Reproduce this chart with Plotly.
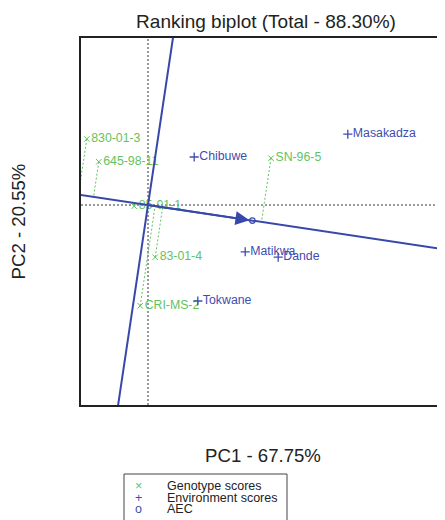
import plotly.graph_objects as go

# ---- data ----
genotypes = ["830-01-3", "645-98-11", "85-01-1", "83-01-4", "CRI-MS-2", "SN-96-5"]
geno_pc1 = [-1.02, -0.82, -0.23, 0.12, -0.13, 2.05]
geno_pc2 = [1.10, 0.72, -0.02, -0.87, -1.68, 0.78]

environments = ["Chibuwe", "Masakadza", "Matikwa", "Dande", "Tokwane"]
env_pc1 = [0.77, 3.33, 1.62, 2.17, 0.83]
env_pc2 = [0.80, 1.18, -0.78, -0.87, -1.60]

aec_pc1 = 1.74
aec_pc2 = -0.26

title_text = "Ranking biplot (Total - 88.30%)"
x_title = "PC1 - 67.75%"
y_title = "PC2 - 20.55%"
legend_labels = ["Genotype scores", "Environment scores", "AEC"]

# ---- styles ----
GREEN = "#5fc45f"
BLUE = "#3f4db0"
LINEBLUE = "#3848aa"
DARK = "#222222"
FONT = "Liberation Sans, Arial, Helvetica, sans-serif"

OFF = 8  # page body margin
W, H = 445 - OFF, 520 - OFF
ML, MT, MB, MR = 81 - OFF, 38 - OFF, 520 - 405, 0
PW, PH = W - ML - MR, H - MT - MB

fig = go.Figure()

# projections of genotypes onto the AEC abscissa
a2 = aec_pc1 ** 2 + aec_pc2 ** 2
px_, py_ = [], []
for gx, gy in zip(geno_pc1, geno_pc2):
    t = (gx * aec_pc1 + gy * aec_pc2) / a2
    px_ += [gx, t * aec_pc1, None]
    py_ += [gy, t * aec_pc2, None]
fig.add_trace(go.Scatter(x=px_, y=py_, mode="lines",
                         line=dict(color=GREEN, width=1, dash="2px,2px"),
                         hoverinfo="skip", showlegend=False))

# genotype scores
fig.add_trace(go.Scatter(x=geno_pc1, y=geno_pc2, mode="markers+text",
                         text=genotypes, textposition="middle right",
                         textfont=dict(family=FONT, size=12.3, color=GREEN),
                         marker=dict(symbol="x-thin-open", size=5.5, color=GREEN,
                                     line=dict(color=GREEN, width=1)),
                         name="Genotype scores", showlegend=False))

# environment scores
fig.add_trace(go.Scatter(x=env_pc1, y=env_pc2, mode="markers+text",
                         text=environments, textposition="middle right",
                         textfont=dict(family=FONT, size=12.3, color=BLUE),
                         marker=dict(symbol="cross-thin-open", size=6.5, color=BLUE,
                                     line=dict(color=BLUE, width=1.3)),
                         name="Environment scores", showlegend=False))

# AEC abscissa (through origin and AEC) and ordinate (perpendicular)
T = 20
fig.add_trace(go.Scatter(x=[-T * aec_pc1, T * aec_pc1], y=[-T * aec_pc2, T * aec_pc2],
                         mode="lines", line=dict(color=LINEBLUE, width=2),
                         hoverinfo="skip", showlegend=False))
fig.add_trace(go.Scatter(x=[T * aec_pc2, -T * aec_pc2], y=[-T * aec_pc1, T * aec_pc1],
                         mode="lines", line=dict(color=LINEBLUE, width=2),
                         hoverinfo="skip", showlegend=False))

# AEC point
fig.add_trace(go.Scatter(x=[aec_pc1], y=[aec_pc2], mode="markers",
                         marker=dict(symbol="circle-open", size=5.5, color=BLUE,
                                     line=dict(color=BLUE, width=1.2)),
                         name="AEC", showlegend=False))

# arrow from origin to AEC
fig.add_annotation(x=aec_pc1, y=aec_pc2, ax=0, ay=0, axref="x", ayref="y",
                   xref="x", yref="y", text="", showarrow=True,
                   arrowhead=2, arrowsize=1.4, arrowwidth=2,
                   arrowcolor=LINEBLUE, standoff=3)

# dotted origin lines
fig.add_hline(y=0, line=dict(color="#333333", width=1, dash="2px,2px"), layer="below")
fig.add_vline(x=0, line=dict(color="#333333", width=1, dash="2px,2px"), layer="below")

# scale: 60 px per unit, origin at window pixel (148, 205)
ox, oy, s = 148 - OFF, 205 - OFF, 60.0
xr = [(ML - ox) / s, (ML + PW - ox) / s]
yr = [(oy - (MT + PH)) / s, (oy - MT) / s]

fig.update_xaxes(range=xr, showgrid=False, zeroline=False, showticklabels=False,
                 ticks="", showline=True, linecolor=DARK, linewidth=2, mirror=True,
                 title=dict(text=x_title, font=dict(family=FONT, size=18.6, color=DARK),
                            standoff=43))
fig.update_yaxes(range=yr, showgrid=False, zeroline=False, showticklabels=False,
                 ticks="", showline=True, linecolor=DARK, linewidth=2, mirror=False,
                 title=dict(text=y_title, font=dict(family=FONT, size=18.6, color=DARK),
                            standoff=50))


def pxx(x):
    """window pixel x -> paper x"""
    return (x - OFF - ML) / PW


def pyy(y):
    """window pixel y -> paper y"""
    return (MT + PH - (y - OFF)) / PH


# manual R-style legend box below the plot
fig.add_shape(type="rect", xref="paper", yref="paper",
              x0=pxx(124), x1=pxx(287), y0=pyy(540), y1=pyy(474),
              fillcolor="rgba(0,0,0,0)", line=dict(color="#444444", width=1))

sym = ["×", "+", "o"]
sym_col = [GREEN, BLUE, BLUE]
rows = [486, 497.5, 509]
for lab, sy, sc, ry in zip(legend_labels, sym, sym_col, rows):
    fig.add_annotation(xref="paper", yref="paper", x=pxx(138), y=pyy(ry),
                       text=sy, showarrow=False, xanchor="center", yanchor="middle",
                       borderpad=0, font=dict(family=FONT, size=12.5, color=sc))
    fig.add_annotation(xref="paper", yref="paper", x=pxx(166), y=pyy(ry),
                       text=lab, showarrow=False, xanchor="left", yanchor="middle",
                       borderpad=0, font=dict(family=FONT, size=12.5, color=DARK))

fig.update_layout(
    width=W, height=H,
    margin=dict(l=ML, r=MR, t=MT, b=MB, autoexpand=False),
    paper_bgcolor="white", plot_bgcolor="white",
    title=dict(text=title_text, xref="container", yref="container",
               x=(266 - OFF) / W, y=1 - (21 - OFF) / H, xanchor="center", yanchor="middle",
               font=dict(family=FONT, size=19, color=DARK)),
    showlegend=False,
)

fig.write_html("out.html")
